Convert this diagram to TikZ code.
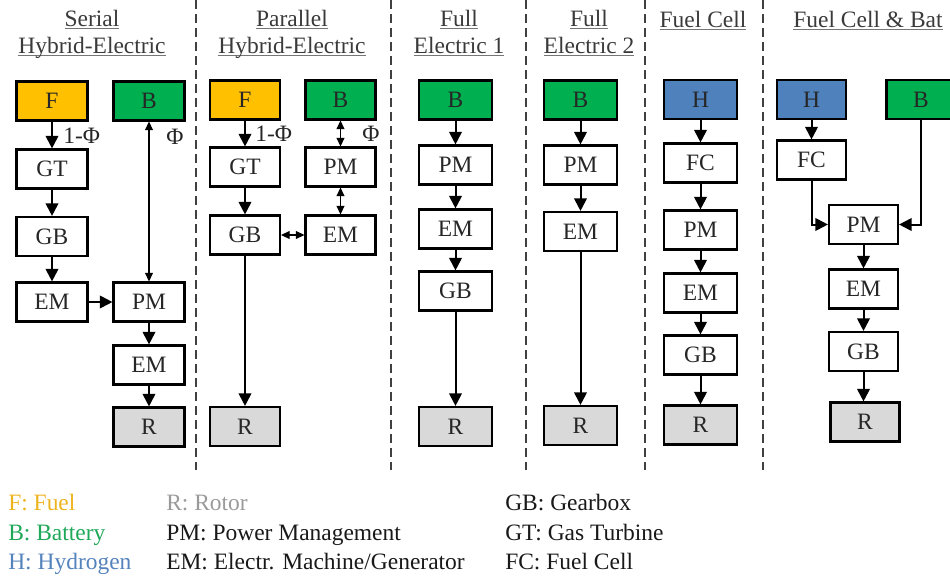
\documentclass[tikz,border=0pt]{standalone}
\usepackage{fontspec}
\setmainfont{LiberationSerif}[Extension=.ttf, UprightFont=*-Regular, BoldFont=*-Bold]
\newfontfamily\tnr{LiberationSerif}[Extension=.ttf, UprightFont=*-Regular]
\usetikzlibrary{arrows.meta}
\definecolor{cfuel}{HTML}{FFC000}
\definecolor{cbat}{HTML}{00B050}
\definecolor{chyd}{HTML}{4F81BD}
\definecolor{crot}{HTML}{D9D9D9}
\definecolor{tfuel}{HTML}{EEB41E}
\definecolor{tbat}{HTML}{1EA858}
\definecolor{thyd}{HTML}{5583BC}
\definecolor{trot}{HTML}{9A9A9A}
\definecolor{sepgray}{HTML}{404040}
\definecolor{titlegray}{HTML}{3A3A3A}
\newcommand\myul[1]{\setbox0\hbox{#1}\rlap{\color{titlegray!70}\rule[-2.6pt]{\wd0}{0.8pt}}\box0}
\begin{document}
\begin{tikzpicture}[x=0.75pt,y=-0.75pt,
  every node/.style={font=\tnr\fontsize{17.6pt}{21pt}\selectfont},
  box/.style={draw, line width=1.6pt, inner sep=0pt, minimum height=29.25pt, text=black!85},
  wA/.style={minimum width=53.25pt},
  wB/.style={minimum width=52.5pt},
  wC/.style={minimum width=54.75pt},
  wD/.style={minimum width=51.75pt},
  arr/.style={line width=1.5pt, -{Triangle[width=9.5pt,length=9.5pt]}},
  darr/.style={line width=0.9pt, {Triangle[width=6pt,length=6.5pt]}-{Triangle[width=6pt,length=6.5pt]}},
  lbl/.style={inner sep=0pt, text=black!85},
  ttl/.style={inner sep=0pt, anchor=base, text=titlegray},
  leg/.style={inner sep=0pt, anchor=base west},
  sep/.style={draw=sepgray, line width=1.5pt, dash pattern=on 6.5pt off 4pt}]
\useasboundingbox (0,0) rectangle (950,579);

% separators
\foreach \sx in {196,391,525.5,645,763}
  \draw[sep] (\sx,0) -- (\sx,470);

% titles
\node[ttl] (t1a) at (92,26) {\myul{Serial}};
\node[ttl] (t1b) at (92,53) {\myul{Hybrid-Electric}};
\node[ttl] (t2a) at (292,26) {\myul{Parallel}};
\node[ttl] (t2b) at (292,53) {\myul{Hybrid-Electric}};
\node[ttl] (t3a) at (459,26) {\myul{Full}};
\node[ttl] (t3b) at (459,53) {\myul{Electric 1}};
\node[ttl] (t4a) at (589,26) {\myul{Full}};
\node[ttl] (t4b) at (589,53) {\myul{Electric 2}};
\node[ttl] (t5) at (703,27) {\myul{Fuel Cell}};
\node[ttl] (t6) at (868,27) {\myul{Fuel Cell \& Bat}};

% Serial hybrid-electric
\node[box,wA,fill=cfuel] (sF) at (52,101) {F};
\node[box,wA,fill=cbat] (sB) at (149,101) {B};
\node[box,wA] (sGT) at (52,169) {GT};
\node[box,wA] (sGB) at (52,236.5) {GB};
\node[box,wA] (sEM) at (52,302) {EM};
\node[box,wA] (sPM) at (149,302) {PM};
\node[box,wA] (sEM2) at (149,365) {EM};
\node[box,wA,fill=crot] (sR) at (149,427) {R};
\draw[arr] (sF) -- (sGT);
\draw[arr] (sGT) -- (sGB);
\draw[arr] (sGB) -- (sEM);
\draw[arr] (sEM) -- (sPM);
\draw[arr] (sPM) -- (sEM2);
\draw[arr] (sEM2) -- (sR);
\draw[darr] (sB) -- (sPM);
\node[lbl,anchor=west] (sl1) at (63,136) {1-Φ};
\node[lbl] (sl2) at (175,137) {Φ};

% Parallel hybrid-electric
\node[box,wB,fill=cfuel] (pF) at (245,100) {F};
\node[box,wB,fill=cbat] (pB) at (340.5,100) {B};
\node[box,wB] (pGT) at (245,167) {GT};
\node[box,wB] (pPM) at (340.5,167) {PM};
\node[box,wB] (pGB) at (245,235) {GB};
\node[box,wB] (pEM) at (340.5,235) {EM};
\node[box,wB,fill=crot] (pR) at (245,426.5) {R};
\draw[arr] (pF) -- (pGT);
\draw[arr] (pGT) -- (pGB);
\draw[darr] (pB) -- (pPM);
\draw[darr] (pPM) -- (pEM);
\draw[darr] (pGB) -- (pEM);
\draw[arr] (pGB) -- (pR);
\node[lbl,anchor=west] (pl1) at (255,134) {1-Φ};
\node[lbl] (pl2) at (371,134) {Φ};

% Full electric 1
\node[box,wC,fill=cbat] (aB) at (455.5,100) {B};
\node[box,wC] (aPM) at (455.5,165) {PM};
\node[box,wC] (aEM) at (455.5,229) {EM};
\node[box,wC] (aGB) at (455.5,291) {GB};
\node[box,wC,fill=crot] (aR) at (455.5,426.5) {R};
\draw[arr] (aB) -- (aPM);
\draw[arr] (aPM) -- (aEM);
\draw[arr] (aEM) -- (aGB);
\draw[arr] (aGB) -- (aR);

% Full electric 2
\node[box,wC,fill=cbat] (bB) at (580.5,100) {B};
\node[box,wC] (bPM) at (580.5,165) {PM};
\node[box,wC] (bEM) at (580.5,231.5) {EM};
\node[box,wC,fill=crot] (bR) at (580.5,425.5) {R};
\draw[arr] (bB) -- (bPM);
\draw[arr] (bPM) -- (bEM);
\draw[arr] (bEM) -- (bR);

% Fuel cell
\node[box,wC,fill=chyd] (cH) at (700.5,99.5) {H};
\node[box,wC] (cFC) at (700.5,163) {FC};
\node[box,wC] (cPM) at (700.5,230) {PM};
\node[box,wC] (cEM) at (700.5,293) {EM};
\node[box,wC] (cGB) at (700.5,355) {GB};
\node[box,wC,fill=crot] (cR) at (700.5,425) {R};
\draw[arr] (cH) -- (cFC);
\draw[arr] (cFC) -- (cPM);
\draw[arr] (cPM) -- (cEM);
\draw[arr] (cEM) -- (cGB);
\draw[arr] (cGB) -- (cR);

% Fuel cell & battery
\node[box,wD,fill=chyd] (dH) at (811.5,99.5) {H};
\node[box,wD,fill=cbat] (dB) at (921,99.5) {B};
\node[box,wD] (dFC) at (811.5,160) {FC};
\node[box,wD] (dPM) at (863.5,224.5) {PM};
\node[box,wD] (dEM) at (863.5,289) {EM};
\node[box,wD] (dGB) at (863.5,351.5) {GB};
\node[box,wD,fill=crot] (dR) at (865,422) {R};
\draw[arr] (dH) -- (dFC);
\draw[arr] (dFC) |- (dPM);
\draw[arr] (dB) |- (dPM);
\draw[arr] (dPM) -- (dEM);
\draw[arr] (dEM) -- (dGB);
\draw[arr] (dGB.south) -- (dR.north -| dGB.south);

% legend
\node[leg,text=tfuel] (l1) at (8,510) {F: Fuel};
\node[leg,text=tbat] (l2) at (8,540) {B: Battery};
\node[leg,text=thyd] (l3) at (8,569) {H: Hydrogen};
\node[leg,text=trot] (l4) at (166,510) {R: Rotor};
\node[leg,text=black!90] (l5) at (166,540) {PM: Power Management};
\node[leg,text=black!90] (l6) at (166,569) {EM: Electr. Machine/Generator};
\node[leg,text=black!90] (l7) at (505,510) {GB: Gearbox};
\node[leg,text=black!90] (l8) at (505,540) {GT: Gas Turbine};
\node[leg,text=black!90] (l9) at (505,569) {FC: Fuel Cell};
\end{tikzpicture}
\end{document}
